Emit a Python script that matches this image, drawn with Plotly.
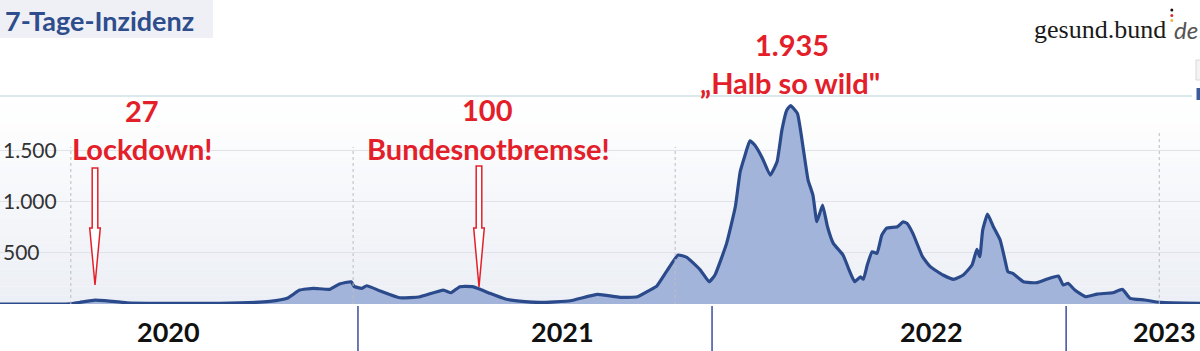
import plotly.graph_objects as go

# ---------------- data ----------------
dates = [
    "2019-12-29", "2020-01-01", "2020-03-05", "2020-03-10", "2020-03-20", "2020-04-05", "2020-04-15",
    "2020-05-08", "2020-06-11", "2020-07-22", "2020-09-01", "2020-10-02", "2020-10-20",
    "2020-11-02", "2020-11-16", "2020-12-03", "2020-12-13", "2020-12-25", "2020-12-28",
    "2021-01-05", "2021-01-10", "2021-01-24", "2021-02-13", "2021-03-06", "2021-03-30",
    "2021-04-07", "2021-04-16", "2021-04-29", "2021-05-07", "2021-05-17", "2021-06-02",
    "2021-06-22", "2021-07-08", "2021-08-08", "2021-09-05", "2021-09-28", "2021-10-16",
    "2021-10-29", "2021-11-05", "2021-11-16", "2021-11-27", "2021-12-06", "2021-12-20",
    "2021-12-29", "2022-01-04", "2022-01-16", "2022-01-25", "2022-01-30", "2022-02-04",
    "2022-02-09", "2022-02-14", "2022-02-22", "2022-03-02", "2022-03-09", "2022-03-14",
    "2022-03-19", "2022-03-23", "2022-03-30", "2022-04-05", "2022-04-10", "2022-04-15",
    "2022-04-19", "2022-04-22", "2022-04-25", "2022-04-30", "2022-05-06", "2022-05-16",
    "2022-05-23", "2022-05-28", "2022-06-03", "2022-06-06", "2022-06-10", "2022-06-15",
    "2022-06-20", "2022-06-25", "2022-06-30", "2022-07-11", "2022-07-17", "2022-07-21",
    "2022-07-27", "2022-08-06", "2022-08-14", "2022-08-27", "2022-09-07", "2022-09-17",
    "2022-09-26", "2022-10-01", "2022-10-04", "2022-10-07", "2022-10-12", "2022-10-18",
    "2022-10-25", "2022-10-30", "2022-11-02", "2022-11-07", "2022-11-18", "2022-12-02",
    "2022-12-12", "2022-12-24", "2022-12-29", "2023-01-03", "2023-01-10", "2023-01-21",
    "2023-02-02", "2023-02-18", "2023-02-28", "2023-03-08", "2023-03-23", "2023-04-08",
    "2023-05-19",
]
incidence = [
    0, 0, 0, 1, 15, 38, 33,
    12, 7, 6, 10, 25, 55,
    136, 153, 143, 195, 217, 172,
    153, 178, 127, 61, 71, 136,
    110, 169, 169, 143, 104, 49,
    23, 15, 32, 94, 65, 71,
    136, 175, 331, 477, 455, 331,
    217, 283, 591, 948, 1290, 1452,
    1592, 1550, 1420, 1257, 1387, 1696,
    1891, 1935, 1859, 1518, 1209, 1062,
    802, 884, 965, 753, 591, 478,
    315, 217, 266, 241, 380, 510,
    494, 672, 740, 753, 802, 786,
    689, 461, 364, 283, 241, 283,
    380, 533, 461, 721, 877, 753,
    624, 429, 315, 299, 217, 208,
    241, 273, 185, 202, 136, 71,
    97, 110, 143, 55, 39, 16,
    7,
]

y_tickvals = [500, 1000, 1500]
y_ticktext = ["500", "1.000", "1.500"]

year_labels = ["2020", "2021", "2022", "2023"]
year_starts = ["2021-01-01", "2022-01-01", "2023-01-01"]
guide_dates = ["2020-03-11", "2020-12-27", "2021-11-24", "2023-04-07"]

callout_values = ["27", "100", "1.935"]
callout_texts = ["Lockdown!", "Bundesnotbremse!", "„Halb so wild\""]

# ---------------- layout helpers ----------------
W, H = 1200, 351
TOP, BOTTOM = 96, 304


def px(x):
    return x / W


def py(y):
    return (BOTTOM - y) / (BOTTOM - TOP)


RED = "#e3202a"
BLUE_LINE = "#2b4a8b"
FILL = "#a3b4da"

fig = go.Figure()
fig.add_trace(go.Scatter(
    x=dates, y=incidence, mode="lines", fill="tozeroy",
    line=dict(color=BLUE_LINE, width=3.2, shape="spline", smoothing=0.4), fillcolor=FILL,
    hoverinfo="skip", showlegend=False,
))

shapes = []
# gradient background of plot area
n = 24
for i in range(n):
    t = i / (n - 1)
    r = round(255 - t * (255 - 0xEC))
    g = round(255 - t * (255 - 0xEF))
    b = round(255 - t * (255 - 0xF5))
    shapes.append(dict(type="rect", xref="paper", yref="paper",
                       x0=0, x1=1, y0=1 - (i + 1) / n, y1=1 - i / n,
                       fillcolor=f"rgb({r},{g},{b})", line=dict(width=0), layer="below"))
# top border line
shapes.append(dict(type="line", xref="paper", yref="paper", x0=0, x1=px(1192), y0=1, y1=1,
                   line=dict(color="#cfe2e6", width=1.5), layer="above"))
# dotted guides
guide_tops = [147, 147, 147, 132]
for d, top in zip(guide_dates, guide_tops):
    shapes.append(dict(type="line", xref="x", yref="paper", x0=d, x1=d, y0=0, y1=py(top),
                       line=dict(color="#bcbcc0", width=1, dash="dot"), layer="above"))
# year separators
for d in year_starts:
    shapes.append(dict(type="line", xref="x", yref="paper", x0=d, x1=d, y0=py(306), y1=py(351),
                       line=dict(color="#3b4f9c", width=1.5), layer="above"))
# title box
shapes.append(dict(type="rect", xref="paper", yref="paper", x0=0, x1=px(213), y0=py(38), y1=py(0),
                   fillcolor="#eef0f5", line=dict(width=0), layer="above"))
# hollow red arrows
for ax, top, tip in [(95, 168, 285), (479, 166, 287)]:
    sw, hw, hy = 2.8, 5.3, 228
    pts = [(ax - sw, top), (ax + sw, top), (ax + sw, hy), (ax + hw, hy), (ax, tip),
           (ax - hw, hy), (ax - sw, hy)]
    path = "M " + " L ".join(f"{px(x):.5f},{py(y):.5f}" for x, y in pts) + " Z"
    shapes.append(dict(type="path", xref="paper", yref="paper", path=path,
                       fillcolor="white", line=dict(color=RED, width=1.5), layer="above"))
# logo dots (flag colours)
for cy, col in [(10, "#111111"), (15.5, "#d0302a"), (20.5, "#e8b84a")]:
    shapes.append(dict(type="circle", xref="paper", yref="paper",
                       x0=px(1170.3), x1=px(1173.3), y0=py(cy + 1.5), y1=py(cy - 1.5),
                       fillcolor=col, line=dict(width=0), layer="above"))
# cropped elements at right edge
shapes.append(dict(type="rect", xref="paper", yref="paper", x0=px(1196), x1=px(1201), y0=py(80), y1=py(60),
                   fillcolor="#f4f4f4", line=dict(color="#d8d8d8", width=1), layer="above"))
shapes.append(dict(type="rect", xref="paper", yref="paper", x0=px(1196.5), x1=px(1201), y0=py(100), y1=py(88),
                   fillcolor="#3a5c9c", line=dict(width=0), layer="above"))

annotations = []
annotations.append(dict(text="<b>7-Tage-Inzidenz</b>", xref="paper", yref="paper", x=px(3), y=py(20),
                        xanchor="left", yanchor="middle", showarrow=False,
                        font=dict(family="Lato", size=27, color="#2e4d8c")))
annotations.append(dict(text="gesund.bund", xref="paper", yref="paper", x=px(1168), y=py(29),
                        xanchor="right", yanchor="middle", showarrow=False,
                        font=dict(family="Liberation Serif", size=26, color="#1a1a1a")))
annotations.append(dict(text="<i>de</i>", xref="paper", yref="paper", x=px(1172), y=py(29),
                        xanchor="left", yanchor="middle", showarrow=False,
                        font=dict(family="Lato", size=24, color="#555555")))

callout_pos = [((142, 110), (142, 148)), ((487, 109), (488, 148)), ((792, 44), (790, 82))]
for val, txt, ((vx, vy), (tx, ty)) in zip(callout_values, callout_texts, callout_pos):
    annotations.append(dict(text=f"<b>{val}</b>", xref="paper", yref="paper", x=px(vx), y=py(vy),
                            xanchor="center", yanchor="middle", showarrow=False,
                            font=dict(family="Lato", size=29, color=RED)))
    annotations.append(dict(text=f"<b>{txt}</b>", xref="paper", yref="paper", x=px(tx), y=py(ty),
                            xanchor="center", yanchor="middle", showarrow=False,
                            font=dict(family="Lato", size=29, color=RED)))

year_x = [168, 562, 931, 1164]
for lab, x in zip(year_labels, year_x):
    annotations.append(dict(text=f"<b>{lab}</b>", xref="paper", yref="paper", x=px(x), y=py(331),
                            xanchor="center", yanchor="middle", showarrow=False,
                            font=dict(family="Lato", size=27, color="#111111")))

fig.update_layout(
    width=W, height=H,
    margin=dict(l=0, r=0, t=TOP, b=H - BOTTOM, pad=0),
    paper_bgcolor="white", plot_bgcolor="white",
    showlegend=False,
    shapes=shapes, annotations=annotations,
    xaxis=dict(type="date", range=["2019-12-29", "2023-05-19"], showticklabels=False,
               showgrid=False, zeroline=False, showline=False, ticks=""),
    yaxis=dict(range=[0, 2029], tickvals=y_tickvals, ticktext=y_ticktext,
               ticklabelposition="inside", ticks="", showgrid=True, gridcolor="#e1e3e9",
               gridwidth=1, zeroline=False, showline=False,
               tickfont=dict(family="Lato", size=21, color="#333333")),
)

fig.write_html("out.html")
